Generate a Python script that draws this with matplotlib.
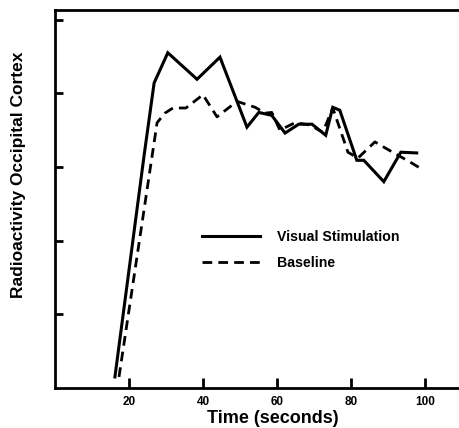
import matplotlib
matplotlib.use("Agg")
import matplotlib.pyplot as plt

plt.rcParams['font.family'] = ['Liberation Sans', 'DejaVu Sans']
plt.rcParams['font.weight'] = 'bold'

# Visual Stimulation (solid)
vis_t = [16.2, 24.1, 26.8, 30.5, 38.4, 44.6, 51.9, 55.1, 58.6, 62.2, 65.9, 69.5,
         73.2, 75.1, 77.0, 81.6, 83.5, 88.9, 93.5, 97.8]
vis_y = [0.15, 3.16, 4.14, 4.55, 4.19, 4.49, 3.54, 3.74, 3.70, 3.46, 3.58, 3.58,
         3.43, 3.81, 3.77, 3.09, 3.09, 2.80, 3.20, 3.19]

# Baseline (dashed)
base_t = [17.3, 27.6, 29.7, 31.9, 35.4, 40.0, 43.8, 49.2, 54.1, 56.8, 58.6, 60.8,
          64.9, 68.9, 72.4, 75.1, 79.2, 81.9, 86.5, 89.2, 92.7, 95.9, 99.5]
base_y = [0.15, 3.60, 3.73, 3.80, 3.80, 3.98, 3.68, 3.89, 3.81, 3.73, 3.74, 3.50,
          3.60, 3.57, 3.47, 3.80, 3.20, 3.12, 3.34, 3.26, 3.16, 3.07, 2.96]

x_ticks = [20, 40, 60, 80, 100]
y_ticks = [1, 2, 3, 4, 5]

fig = plt.figure(figsize=(4.6, 4.28), dpi=100)
ax = fig.add_axes([55/460, 40/428, 405/460, 378/428])

ax.plot(vis_t, vis_y, color='black', lw=2.2, solid_joinstyle='miter',
        label='Visual Stimulation')
ax.plot(base_t, base_y, color='black', lw=2.0, dashes=(3.5, 2.2),
        label='Baseline')

ax.set_xlim(0, 109.5)
ax.set_ylim(0, 5.13)
ax.set_xticks(x_ticks)
ax.set_xticklabels([str(v) for v in x_ticks])
ax.set_yticks(y_ticks)
ax.set_yticklabels([])
ax.tick_params(axis='x', direction='in', length=7, width=2, labelsize=8.5, pad=6)
ax.tick_params(axis='y', direction='in', length=6, width=2)
for lab in ax.get_xticklabels():
    lab.set_fontweight('bold')

for s in ['left', 'bottom', 'top']:
    ax.spines[s].set_linewidth(2)
ax.spines['right'].set_visible(False)

ax.set_xlabel('Time (seconds)', fontsize=13, fontweight='bold')
ax.xaxis.set_label_coords((273-55)/405, -(410-388)/378)
ax.set_ylabel('Radioactivity Occipital Cortex', fontsize=12.5, fontweight='bold')
ax.yaxis.set_label_coords(-(55-26)/405, (388-175)/378)

leg = ax.legend(loc='center left', bbox_to_anchor=(202/460, 1-250/428),
                bbox_transform=fig.transFigure, frameon=False, fontsize=10.2,
                handlelength=4.1, handletextpad=1.2, labelspacing=0.83,
                borderpad=0, borderaxespad=0)
for t in leg.get_texts():
    t.set_fontweight('bold')

fig.savefig('out.png', dpi=100)
